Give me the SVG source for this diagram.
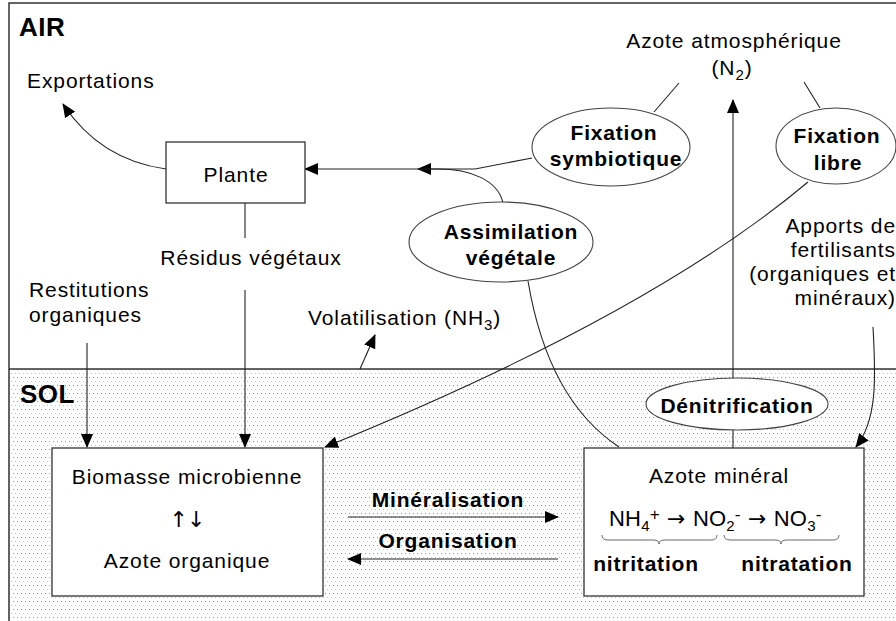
<svg xmlns="http://www.w3.org/2000/svg" width="896" height="621" viewBox="0 0 896 621">
<defs>
<pattern id="dots" x="0" y="0" width="4" height="8" patternUnits="userSpaceOnUse">
<rect x="1" y="1" width="1" height="1" fill="#9a9a9a"/>
<rect x="3" y="5" width="1" height="1" fill="#c4c4c4"/>
</pattern>
<marker id="ah" markerUnits="userSpaceOnUse" markerWidth="14" markerHeight="12" viewBox="0 0 14 12" refX="13" refY="6" orient="auto">
<path d="M0,0 L14,6 L0,12 Z" fill="#000"/>
</marker>
<style>
text{font-family:"Liberation Sans",Arial,sans-serif;font-size:21px;letter-spacing:0.9px;fill:#000}
.b{font-weight:bold;letter-spacing:0.8px}
.big{font-weight:bold;font-size:26px;letter-spacing:0.5px}
.m{text-anchor:middle}
.e{text-anchor:end}
.sym{font-family:"DejaVu Sans",sans-serif}
.box{fill:#fff;stroke:#333;stroke-width:1.3}
.ell{fill:#fff;stroke:#444;stroke-width:1.1}
.c{fill:none;stroke:#222;stroke-width:1.1}
.ca{fill:none;stroke:#222;stroke-width:1.1;marker-end:url(#ah)}
.fr{stroke:#333;stroke-width:1.5;fill:none}
</style>
</defs>
<rect width="896" height="621" fill="#fff"/>
<g id="background">
<rect x="9" y="369" width="887" height="252" fill="url(#dots)"/>
<path class="fr" d="M9,621 L9,3 L896,3"/>
<path class="fr" d="M9,369 L896,369"/>
<text class="big" x="19" y="36">AIR</text>
<text class="big" x="20" y="403">SOL</text>
</g>
<g id="connectors">
<path class="ca" d="M166,169 Q100,160 63,104"/>
<path class="c" d="M245,203 L245,238"/>
<path class="ca" d="M245,290 L245,447"/>
<path class="ca" d="M87,343 L87,447"/>
<path class="ca" d="M532,158 L475,169 L418,169"/>
<path class="ca" d="M503,203 C498,180 470,169 438,169 L305,169"/>
<path class="c" d="M679,83 L654,112"/>
<path class="c" d="M804,82 L820,108"/>
<path class="ca" d="M808,182 Q650,315 325,447"/>
<path class="c" d="M528,281 Q548,400 619,447"/>
<path class="ca" d="M733,378 L733,100"/>
<path class="c" d="M733,430 L733,448"/>
<path class="ca" d="M873,327 C876,380 877,420 856,447"/>
<path class="ca" d="M360,369 L375,335"/>
<path class="ca" d="M348,517 L558,517"/>
<path class="ca" d="M558,559 L348,559"/>
</g>
<g id="exportations"><text x="27" y="88">Exportations</text></g>
<g id="plante">
<rect class="box" x="166" y="142" width="139" height="61"/>
<text class="m" x="236" y="182">Plante</text>
</g>
<g id="residus"><text class="m" x="251" y="265">Résidus végétaux</text></g>
<g id="restitutions">
<text x="29" y="297">Restitutions</text>
<text x="29" y="322">organiques</text>
</g>
<g id="volatilisation"><text x="308" y="325">Volatilisation (NH<tspan dy="5" font-size="15">3</tspan><tspan dy="-5">)</tspan></text></g>
<g id="azote-atm">
<text class="m" x="734" y="48">Azote atmosphérique</text>
<text class="m" x="732" y="75">(N<tspan dy="5" font-size="15">2</tspan><tspan dy="-5">)</tspan></text>
</g>
<g id="fixation-symbiotique">
<ellipse class="ell" cx="611" cy="147" rx="79" ry="39"/>
<text class="m b" x="614" y="140">Fixation</text>
<text class="m b" x="616" y="166">symbiotique</text>
</g>
<g id="fixation-libre">
<ellipse class="ell" cx="836" cy="146" rx="60" ry="38"/>
<text class="m b" x="837" y="143">Fixation</text>
<text class="m b" x="838" y="170">libre</text>
</g>
<g id="assimilation">
<ellipse class="ell" cx="501" cy="242" rx="92" ry="40"/>
<text class="m b" x="511" y="239">Assimilation</text>
<text class="m b" x="511" y="265">végétale</text>
</g>
<g id="apports">
<text class="e" x="896" y="233">Apports de</text>
<text class="e" x="896" y="257">fertilisants</text>
<text class="e" x="896" y="281">(organiques et</text>
<text class="e" x="896" y="305">minéraux)</text>
</g>
<g id="denitrification">
<ellipse class="ell" cx="737" cy="404" rx="91" ry="26"/>
<text class="m b" x="737" y="413">Dénitrification</text>
</g>
<g id="biomasse">
<rect class="box" x="52" y="448" width="271" height="148"/>
<text class="m sym" x="187" y="527" style="letter-spacing:-1px;font-size:22px">↑↓</text>
<text class="m" x="187" y="484">Biomasse microbienne</text>
<text class="m" x="187" y="568">Azote organique</text>
</g>
<g id="mineralisation"><text class="m b" x="448" y="507">Minéralisation</text></g>
<g id="organisation"><text class="m b" x="448" y="548">Organisation</text></g>
<g id="azote-mineral">
<rect class="box" x="584" y="448" width="280" height="148"/>
<text class="m" x="719" y="483">Azote minéral</text>
<text x="609" y="526" style="letter-spacing:0.2px;font-size:22px">NH<tspan dy="5" font-size="15">4</tspan><tspan dy="-11" font-size="17">+</tspan><tspan dy="6" class="sym"> → </tspan><tspan>NO</tspan><tspan dy="5" font-size="15">2</tspan><tspan dy="-11" font-size="17">-</tspan><tspan dy="6" class="sym"> → </tspan><tspan>NO</tspan><tspan dy="5" font-size="15">3</tspan><tspan dy="-11" font-size="17">-</tspan></text>
<path fill="none" stroke="#666" stroke-width="1" d="M602,535 Q602,540 608,540 L653,540 Q659,540 659,544 Q659,540 665,540 L711,540 Q717,540 717,535"/>
<path fill="none" stroke="#666" stroke-width="1" d="M724,535 Q724,540 730,540 L775,540 Q781,540 781,544 Q781,540 787,540 L833,540 Q839,540 839,535"/>
<text class="m b" x="646" y="571">nitritation</text>
<text class="m b" x="797" y="571">nitratation</text>
</g>
</svg>
